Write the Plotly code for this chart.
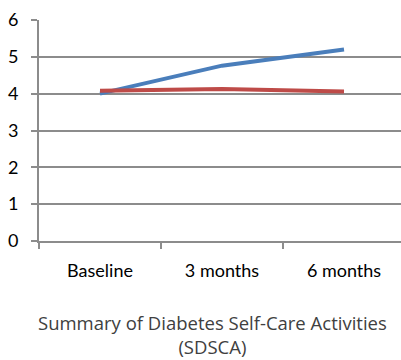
import plotly.graph_objects as go

# Time points and mean SDSCA scores per group
timepoints = ["Baseline", "3 months", "6 months"]
intervention = [4.00, 4.76, 5.20]
control = [4.08, 4.13, 4.06]
y_ticks = [0, 1, 2, 3, 4, 5, 6]

GRID = "#8c8c8c"
TICK_FONT = dict(family="Lato", size=18, color="#000000")

fig = go.Figure()
fig.add_trace(go.Scatter(x=timepoints, y=intervention, mode="lines",
                         line=dict(color="#4a7ebb", width=4), showlegend=False))
fig.add_trace(go.Scatter(x=timepoints, y=control, mode="lines",
                         line=dict(color="#be4b48", width=4), showlegend=False))

fig.update_layout(
    width=401, height=360,
    margin=dict(l=39, r=0, t=20, b=119),
    plot_bgcolor="white", paper_bgcolor="white",
    xaxis=dict(
        type="category", range=[-0.5, 2.467],
        showgrid=False, showline=True, linecolor=GRID, linewidth=2,
        ticks="outside", tickson="boundaries", ticklen=6, tickwidth=2, tickcolor=GRID,
        tickfont=TICK_FONT, ticklabelstandoff=12,
    ),
    yaxis=dict(
        range=[0, 6], tickvals=y_ticks, showgrid=True, gridcolor=GRID, gridwidth=2,
        showline=True, linecolor=GRID, linewidth=2, zeroline=False,
        ticks="outside", ticklen=6, tickwidth=2, tickcolor=GRID,
        tickfont=TICK_FONT, ticklabelstandoff=9,
    ),
    annotations=[dict(
        text="Summary of Diabetes Self-Care Activities<br>(SDSCA)",
        xref="paper", yref="paper", x=0.478, y=-0.303, xanchor="center", yanchor="top",
        showarrow=False, align="center",
        font=dict(family="Open Sans", size=18.5, color="#404040"),
    )],
)

fig.write_html("out.html")
